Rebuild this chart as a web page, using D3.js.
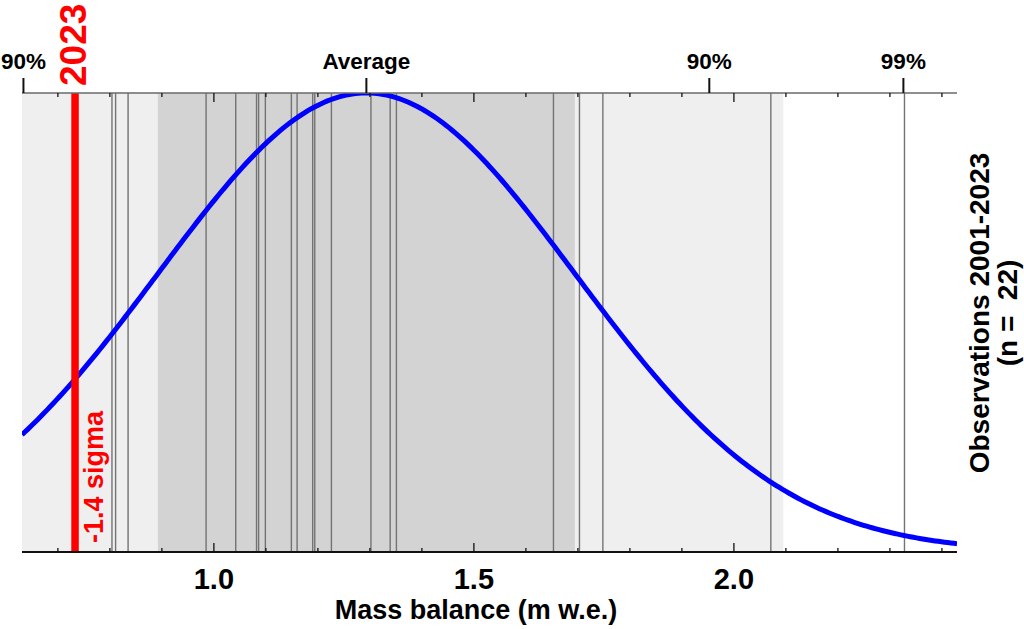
<!DOCTYPE html>
<html><head><meta charset="utf-8">
<script src="https://cdn.jsdelivr.net/npm/d3@7"></script>
<style>body{margin:0;background:#fff}svg{display:block;font-family:"Liberation Sans",Arial,sans-serif}</style>
</head><body><svg id="chart" width="1024" height="629"></svg>
<script>
// ---- data ----
const observations = [0.804,0.811,0.835,0.985,1.042,1.082,1.086,1.099,1.149,1.160,1.190,1.194,1.226,1.302,1.339,1.351,1.653,1.703,1.748,2.071,2.328];
const value2023 = 0.733;
const label2023 = "2023";
const xMajorTicks = [1.0,1.5,2.0];
const xMinorTicks = [0.7,0.8,0.9,1.1,1.2,1.3,1.4,1.6,1.7,1.8,1.9,2.1,2.2,2.3,2.4];
const topLabels = ["90%","Average","90%","99%"];
const topZ = [-1.645,0,1.645,2.576];
const xTitle = "Mass balance (m w.e.)";
const rightTitle = ["Observations 2001-2023","(n =  22)"];

// ---- layout ----
const L=22,R=957,T=93,B=552;
const x = d3.scaleLinear().domain([0.631,2.429]).range([L,R]);
const y = d3.scaleLinear().domain([0,1]).range([B,T]);
const mean = d3.mean(observations), sd = d3.deviation(observations);
const sigma2023 = (value2023-mean)/sd;

const svg = d3.select("#chart");
svg.append("defs").append("clipPath").attr("id","plot").append("rect")
  .attr("x",L).attr("y",T).attr("width",R-L).attr("height",B-T);
const g = svg.append("g").attr("clip-path","url(#plot)");

// bands
[[2,"#efefef"],[1,"#d3d3d3"]].forEach(([k,c])=>{
  const a=x(mean-k*sd), b=x(mean+k*sd);
  g.append("rect").attr("x",a).attr("y",T).attr("width",b-a).attr("height",B-T).attr("fill",c);
});
// observation lines
g.selectAll("line.obs").data(observations).join("line").attr("class","obs")
  .attr("x1",d=>x(d)).attr("x2",d=>x(d)).attr("y1",T).attr("y2",B)
  .attr("stroke","#737373").attr("stroke-width",1.4);
// normal curve
const xs = d3.range(0,301).map(i=>x.domain()[0]+i*(x.domain()[1]-x.domain()[0])/300);
g.append("path").datum(xs)
  .attr("d",d3.line().x(d=>x(d)).y(d=>y(Math.exp(-0.5*((d-mean)/sd)**2))))
  .attr("fill","none").attr("stroke","#0000ff").attr("stroke-width",5);
// 2023 line
g.append("line").attr("x1",x(value2023)).attr("x2",x(value2023)).attr("y1",T).attr("y2",B)
  .attr("stroke","#ff0000").attr("stroke-width",7.5);

// axes
const ax = svg.append("g");
ax.append("line").attr("x1",L).attr("x2",R).attr("y1",T).attr("y2",T).attr("stroke","#6a6a6a").attr("stroke-width",1.6);
ax.append("line").attr("x1",L).attr("x2",R).attr("y1",B).attr("y2",B).attr("stroke","#111").attr("stroke-width",1.8);
const tk = (vals,len)=>{
  ax.selectAll(null).data(vals).join("line").attr("x1",d=>x(d)).attr("x2",d=>x(d))
    .attr("y1",B).attr("y2",B-len).attr("stroke","#111").attr("stroke-width",1.3);
  ax.selectAll(null).data(vals).join("line").attr("x1",d=>x(d)).attr("x2",d=>x(d))
    .attr("y1",T).attr("y2",T+len).attr("stroke","#111").attr("stroke-width",1.3);
};
tk(xMinorTicks,4); tk(xMajorTicks,9);
ax.selectAll(null).data(xMajorTicks).join("text").attr("x",d=>x(d)).attr("y",589)
  .attr("text-anchor","middle").attr("font-size",29).attr("font-weight","bold").text(d=>d.toFixed(1));
svg.append("text").attr("x",476).attr("y",619).attr("text-anchor","middle")
  .attr("font-size",27).attr("font-weight","bold").text(xTitle);

// top percentile ticks
const topX = topZ.map(z=>x(mean+z*sd));
ax.selectAll(null).data(topX).join("line").attr("x1",d=>d).attr("x2",d=>d)
  .attr("y1",78).attr("y2",T).attr("stroke","#111").attr("stroke-width",2);
ax.selectAll(null).data(topLabels).join("text").attr("x",(d,i)=>topX[i]).attr("y",69)
  .attr("text-anchor","middle").attr("font-size",22.5).attr("font-weight","bold").text(d=>d);

// 2023 labels
const x23 = x(value2023);
svg.append("text").attr("transform",`translate(${x23+11},86) rotate(-90)`)
  .attr("font-size",37).attr("font-weight","bold").attr("fill","#ff0000").text(label2023);
svg.append("text").attr("transform",`translate(${x23+28},543) rotate(-90)`)
  .attr("font-size",27).attr("font-weight","bold").attr("fill","#ff0000").text(`${sigma2023.toFixed(1)} sigma`);

// right title
rightTitle.forEach((t,i)=>{
  svg.append("text").attr("transform",`translate(${989+i*28},313) rotate(-90)`)
    .attr("text-anchor","middle").attr("font-size",28).attr("font-weight","bold").attr("xml:space","preserve").text(t);
});
</script></body></html>
